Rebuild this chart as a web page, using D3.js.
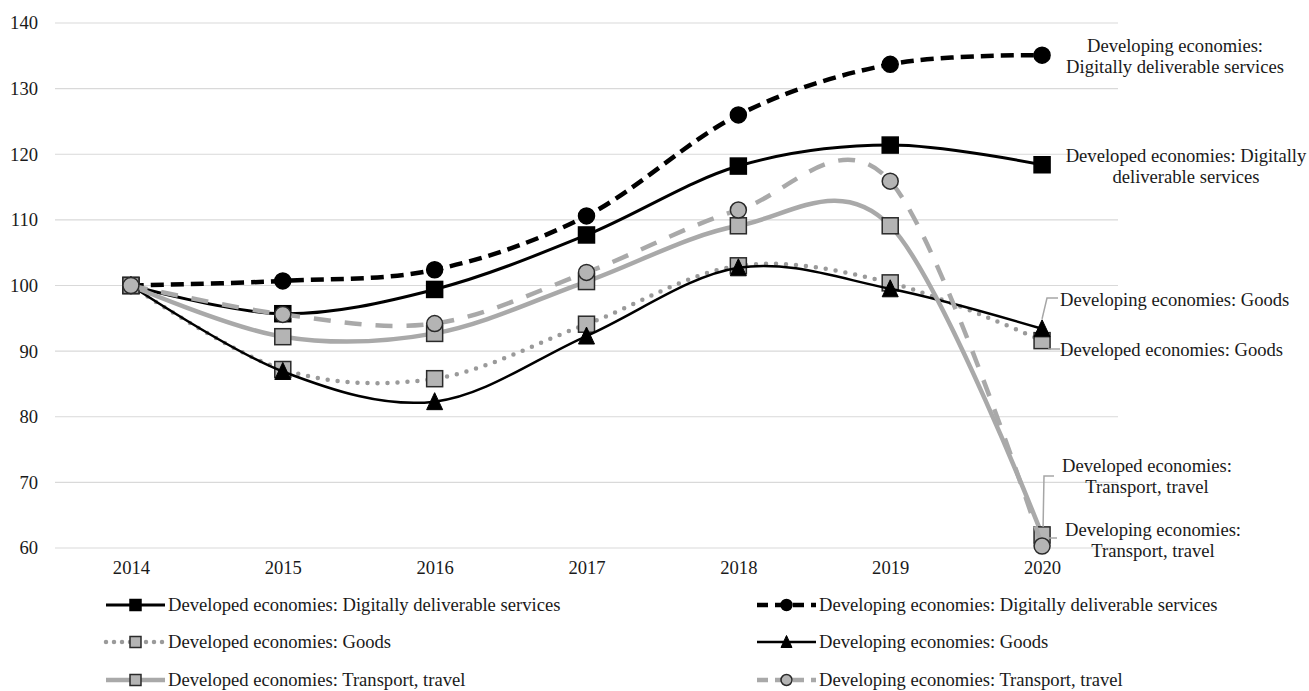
<!DOCTYPE html>
<html>
<head>
<meta charset="utf-8">
<script src="https://cdn.jsdelivr.net/npm/d3@7"></script>
<style>
  html, body { margin: 0; padding: 0; background: #fff; }
  svg { display: block; }
  text { font-family: "Liberation Serif", "Times New Roman", serif; fill: #1a1a1a; }
</style>
</head>
<body>
<svg id="chart" width="1309" height="691"></svg>
<script>
// ---------- data ----------
const years = ["2014", "2015", "2016", "2017", "2018", "2019", "2020"];
const yTicks = [60, 70, 80, 90, 100, 110, 120, 130, 140];

const developedDigital   = [100, 95.7, 99.4, 107.7, 118.2, 121.4, 118.4];
const developingDigital  = [100, 100.7, 102.4, 110.6, 126.0, 133.7, 135.1];
const developedGoods     = [100, 87.2, 85.8, 94.1, 103.0, 100.4, 91.6];
const developingGoods    = [100, 86.9, 82.3, 92.3, 102.7, 99.5, 93.4];
const developedTransport = [100, 92.2, 92.7, 100.6, 109.1, 109.1, 62.0];
const developingTransport= [100, 95.6, 94.2, 102.0, 111.5, 115.9, 60.3];

const seriesNames = [
  "Developed economies: Digitally deliverable services",
  "Developing economies: Digitally deliverable services",
  "Developed economies: Goods",
  "Developing economies: Goods",
  "Developed economies: Transport, travel",
  "Developing economies: Transport, travel"
];

const FS = 18.6;

// ---------- styles ----------
const styles = [
  { values: developedDigital,   stroke: "#000", width: 3,   dash: null,    cap: "butt",  marker: "square",   fill: "#000", mstroke: "#000" },
  { values: developingDigital,  stroke: "#000", width: 4.5, dash: "13,7",  cap: "butt",  marker: "circle",   fill: "#000", mstroke: "#000" },
  { values: developedGoods,     stroke: "#9a9a9a", width: 4.5, dash: "0,10", cap: "round", marker: "square", fill: "#b4b4b4", mstroke: "#2a2a2a" },
  { values: developingGoods,    stroke: "#000", width: 2.5, dash: null,    cap: "butt",  marker: "triangle", fill: "#000", mstroke: "#000" },
  { values: developedTransport, stroke: "#a9a9a9", width: 4.5, dash: null, cap: "butt",  marker: "square",   fill: "#b4b4b4", mstroke: "#2a2a2a" },
  { values: developingTransport,stroke: "#a9a9a9", width: 4.5, dash: "17,14", cap: "butt", marker: "circle", fill: "#b4b4b4", mstroke: "#2a2a2a" }
];

const svg = d3.select("#chart");
const x = d3.scalePoint().domain(years).range([55, 1118]).padding(0.5);
const y = d3.scaleLinear().domain([60, 140]).range([548, 23]);

// ---------- grid ----------
svg.append("g").selectAll("line").data(yTicks).join("line")
  .attr("x1", 55).attr("x2", 1118)
  .attr("y1", d => y(d)).attr("y2", d => y(d))
  .attr("stroke", "#d9d9d9").attr("stroke-width", 1.2);

// y axis labels
const yAxis = svg.append("g").attr("transform", "translate(38,0)")
  .call(d3.axisLeft(y).tickValues(yTicks).tickSize(0).tickPadding(0));
yAxis.select(".domain").remove();
yAxis.selectAll("text").attr("font-size", FS).attr("fill", "#1a1a1a");

// x axis labels
const xAxis = svg.append("g").attr("transform", "translate(0,561)")
  .call(d3.axisBottom(x).tickSize(0).tickPadding(0));
xAxis.select(".domain").remove();
xAxis.selectAll("text").attr("font-size", FS).attr("fill", "#1a1a1a");

// ---------- lines ----------
const line = d3.line()
  .x((d, i) => x(years[i]))
  .y(d => y(d))
  .curve(d3.curveCardinal.tension(0));

function drawMarker(g, type, cx, cy, size, st) {
  if (type === "square") {
    g.append("rect").attr("x", cx - size / 2).attr("y", cy - size / 2)
      .attr("width", size).attr("height", size)
      .attr("fill", st.fill).attr("stroke", st.mstroke).attr("stroke-width", 1.5);
  } else if (type === "circle") {
    g.append("circle").attr("cx", cx).attr("cy", cy).attr("r", size / 2)
      .attr("fill", st.fill).attr("stroke", st.mstroke).attr("stroke-width", 1.5);
  } else {
    const h = size;
    g.append("path")
      .attr("d", `M${cx},${cy - h / 2 - 1}L${cx + h / 2},${cy + h / 2}L${cx - h / 2},${cy + h / 2}Z`)
      .attr("fill", st.fill).attr("stroke", st.mstroke).attr("stroke-width", 1);
  }
}

styles.forEach(st => {
  const g = svg.append("g");
  g.append("path").attr("d", line(st.values))
    .attr("fill", "none").attr("stroke", st.stroke)
    .attr("stroke-width", st.width)
    .attr("stroke-linecap", st.cap)
    .attr("stroke-dasharray", st.dash);
  st.values.forEach((v, i) => drawMarker(g, st.marker, x(years[i]), y(v), 16, st));
});

// ---------- end labels ----------
const lab = svg.append("g").attr("font-size", FS);
function label(lines, xPos, yPos, anchor) {
  const t = lab.append("text").attr("text-anchor", anchor);
  lines.forEach((l, i) => t.append("tspan").attr("x", xPos).attr("y", yPos + i * 21).text(l));
}
label(["Developing economies:", "Digitally deliverable services"], 1175, 52, "middle");
label(["Developed economies: Digitally", "deliverable services"], 1186, 162, "middle");
label(["Developing economies: Goods"], 1060, 306, "start");
label(["Developed economies: Goods"], 1060, 356, "start");
label(["Developed economies:", "Transport, travel"], 1147, 472, "middle");
label(["Developing economies:", "Transport, travel"], 1153, 536, "middle");

// leader lines
const leaders = [
  [[x("2020"), y(developingGoods[6]) - 10], [1047, 298], [1058, 298]],
  [[x("2020") + 6, 349], [1060, 349]],
  [[x("2020") + 1, y(developedTransport[6]) - 8], [1044, 476], [1054, 476]],
  [[x("2020") + 6, 538], [1057, 538]]
];
leaders.forEach(pts => {
  svg.append("path").attr("d", d3.line()(pts))
    .attr("fill", "none").attr("stroke", "#a6a6a6").attr("stroke-width", 1.5);
});

// ---------- legend ----------
const legendPos = [
  [106, 605], [757, 605],
  [106, 642], [757, 642],
  [106, 680], [757, 680]
];
styles.forEach((st, i) => {
  const [lx, ly] = legendPos[i];
  const g = svg.append("g");
  g.append("line").attr("x1", lx).attr("x2", lx + 59).attr("y1", ly).attr("y2", ly)
    .attr("stroke", st.stroke).attr("stroke-width", st.width)
    .attr("stroke-linecap", st.cap)
    .attr("stroke-dasharray", st.dash === "0,10" ? "0,8" : (st.dash ? "11,7" : null));
  drawMarker(g, st.marker, lx + 29.5, ly, 11, st);
  g.append("text").attr("x", lx + 62).attr("y", ly + 6)
    .attr("font-size", FS).text(seriesNames[i]);
});
</script>
</body>
</html>
